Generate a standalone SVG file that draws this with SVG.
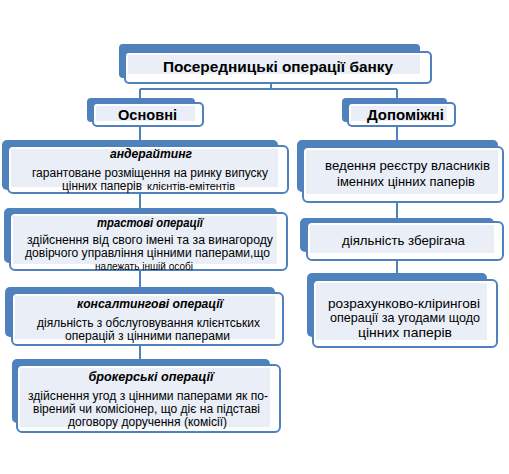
<svg xmlns="http://www.w3.org/2000/svg" width="509" height="474" viewBox="0 0 509 474">
<style>
.bk{fill:#4f81bd}
.fr{fill:#ffffff;stroke:#4f81bd;stroke-width:2}
.in{fill:#e9eef7}
.cn{fill:none;stroke:#4f81bd;stroke-width:2}
text{font-family:"Liberation Sans",Arial,sans-serif;fill:#000;text-anchor:middle}
.st{text-anchor:start}
.h{font-weight:bold;font-size:15px}
.t{font-weight:bold;font-style:italic;font-size:12.5px}
.b{font-size:12.5px}
.s{font-size:10px}
.m{font-size:11.5px}
.r{font-size:13.5px}
</style>
<rect width="509" height="474" fill="#ffffff"/>
<g id="connectors">
<path class="cn" d="M271,83 V89 M140,89 H397 M140,89 V98 M397,89 V98"/>
<path class="cn" d="M140,126 V140 M140,193 V208 M140,270 V287 M140,345 V359"/>
<path class="cn" d="M397,126 V140 M397,202 V218 M397,260 V273"/>
</g>
<g id="root">
<rect class="bk" x="119" y="44" width="301" height="34" rx="4"/>
<rect class="fr" x="125" y="52" width="306" height="31" rx="4"/>
<rect class="in" x="128" y="55" width="292" height="19"/>
<text class="h" x="278" y="72" textLength="230" lengthAdjust="spacingAndGlyphs">Посередницькі операції банку</text>
</g>
<g id="osnovni">
<rect class="bk" x="87" y="98" width="108" height="24" rx="4"/>
<rect class="fr" x="93" y="103" width="110" height="23" rx="4"/>
<rect class="in" x="96" y="106" width="99" height="15"/>
<text class="h" x="147.5" y="120" textLength="59" lengthAdjust="spacingAndGlyphs">Основні</text>
</g>
<g id="dopomizhni">
<rect class="bk" x="342" y="98" width="105" height="24" rx="4"/>
<rect class="fr" x="348" y="103" width="107" height="23" rx="4"/>
<rect class="in" x="351" y="106" width="96" height="15"/>
<text class="h" x="405.5" y="120" textLength="77" lengthAdjust="spacingAndGlyphs">Допоміжні</text>
</g>
<g id="anderaiting">
<rect class="bk" x="2" y="140" width="276" height="50" rx="5"/>
<rect class="fr" x="8" y="146" width="280" height="47" rx="5"/>
<rect class="in" x="11" y="149" width="267" height="38"/>
<text class="t" x="151" y="158" textLength="82" lengthAdjust="spacingAndGlyphs">андерайтинг</text>
<text class="b" x="150" y="177" textLength="236" lengthAdjust="spacingAndGlyphs">гарантоване розміщення на ринку випуску</text>
<text class="b st" x="62" y="190" textLength="80" lengthAdjust="spacingAndGlyphs">цінних паперів</text>
<text class="s st" x="147" y="190" textLength="88" lengthAdjust="spacingAndGlyphs">клієнтів-емітентів</text>
</g>
<g id="trastovi">
<rect class="bk" x="4" y="208" width="273" height="55" rx="5"/>
<rect class="fr" x="10" y="213" width="277" height="57" rx="5"/>
<rect class="in" x="13" y="216" width="264" height="48"/>
<text class="t" x="150" y="227" textLength="106" lengthAdjust="spacingAndGlyphs">трастові операції</text>
<text class="b" x="150" y="244" textLength="246" lengthAdjust="spacingAndGlyphs">здійснення від свого імені та за винагороду</text>
<text class="b" x="147.5" y="257" textLength="245" lengthAdjust="spacingAndGlyphs">довірчого управління цінними паперами,що</text>
<text class="m" x="144" y="269.5" textLength="98" lengthAdjust="spacingAndGlyphs">належать іншій особі</text>
</g>
<g id="konsaltyngovi">
<rect class="bk" x="5" y="287" width="270" height="50" rx="5"/>
<rect class="fr" x="12" y="293" width="271" height="52" rx="5"/>
<rect class="in" x="15" y="296" width="260" height="43"/>
<text class="t" x="150" y="308" textLength="146" lengthAdjust="spacingAndGlyphs">консалтингові операції</text>
<text class="b" x="148.5" y="327" textLength="223" lengthAdjust="spacingAndGlyphs">діяльність з обслуговування клієнтських</text>
<text class="b" x="147.5" y="340" textLength="165" lengthAdjust="spacingAndGlyphs">операцій з цінними паперами</text>
</g>
<g id="brokerski">
<rect class="bk" x="12" y="359" width="258" height="64" rx="5"/>
<rect class="fr" x="17" y="365" width="263" height="67" rx="5"/>
<rect class="in" x="20" y="368" width="250" height="59"/>
<text class="t" x="151" y="381" textLength="125" lengthAdjust="spacingAndGlyphs">брокерські операції</text>
<text class="b" x="148" y="400" textLength="240" lengthAdjust="spacingAndGlyphs">здійснення угод з цінними паперами як по-</text>
<text class="b" x="146.5" y="413" textLength="227" lengthAdjust="spacingAndGlyphs">вірений чи комісіонер, що діє на підставі</text>
<text class="b" x="147.5" y="426" textLength="159" lengthAdjust="spacingAndGlyphs">договору доручення (комісії)</text>
</g>
<g id="reiestr">
<rect class="bk" x="297" y="140" width="201" height="52" rx="5"/>
<rect class="fr" x="303" y="147" width="200" height="55" rx="5"/>
<rect class="in" x="306" y="150" width="192" height="44"/>
<text class="r" x="407.5" y="170" textLength="165" lengthAdjust="spacingAndGlyphs">ведення реєстру власників</text>
<text class="r" x="406" y="186" textLength="138" lengthAdjust="spacingAndGlyphs">іменних цінних паперів</text>
</g>
<g id="zberigach">
<rect class="bk" x="300" y="218" width="194" height="34" rx="5"/>
<rect class="fr" x="307" y="222" width="196" height="38" rx="5"/>
<rect class="in" x="310" y="225" width="184" height="28"/>
<text class="r" x="403.5" y="245" textLength="123" lengthAdjust="spacingAndGlyphs">діяльність зберігача</text>
</g>
<g id="kliring">
<rect class="bk" x="307" y="273" width="180" height="64" rx="5"/>
<rect class="fr" x="313" y="280" width="184" height="67" rx="5"/>
<rect class="in" x="316" y="283" width="171" height="57"/>
<text class="r" x="404" y="308" textLength="152" lengthAdjust="spacingAndGlyphs">розрахунково-клірингові</text>
<text class="r" x="405" y="322" textLength="150" lengthAdjust="spacingAndGlyphs">операції за угодами щодо</text>
<text class="r" x="405" y="337" textLength="94" lengthAdjust="spacingAndGlyphs">цінних паперів</text>
</g>
</svg>
